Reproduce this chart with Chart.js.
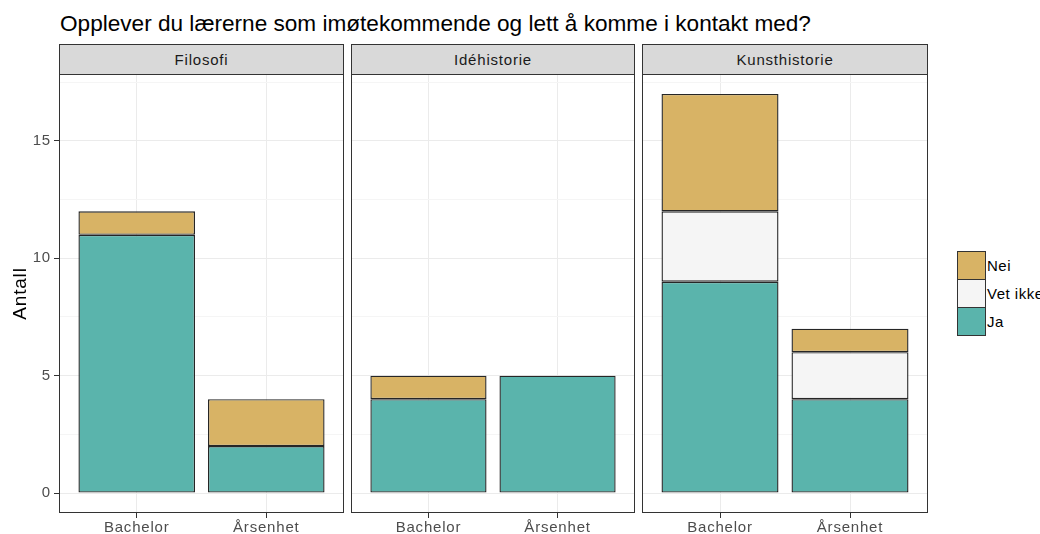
<!DOCTYPE html>
<html>
<head>
<meta charset="utf-8">
<script src="https://cdn.jsdelivr.net/npm/chart.js@4.4.0/dist/chart.umd.min.js"></script>
<style>
  body { margin: 0; background: #fff; font-family: 'Liberation Sans', Arial, sans-serif; }
  #wrap { position: relative; width: 1040px; height: 534px; overflow: hidden; background: #fff; }
  #title { position: absolute; left: 60px; top: 13px; font-size: 22.6px; line-height: 22px; color: #000; white-space: nowrap; }
  .strip { position: absolute; top: 44px; height: 31px; box-sizing: border-box; border: 1px solid #333;
           background: #d9d9d9; font-size: 15px; line-height: 29px; color: #1a1a1a; text-align: center; letter-spacing: 0.8px; }
  canvas { position: absolute; }
  .key { position: absolute; left: 957px; width: 29px; height: 29px; box-sizing: border-box; border: 1px solid #333; }
  .keylabel { position: absolute; left: 987px; height: 29px; line-height: 29px; font-size: 15px; color: #000; white-space: nowrap; letter-spacing: 0.5px; }
</style>
</head>
<body>
<div id="wrap">
  <div id="title">Opplever du lærerne som imøtekommende og lett å komme i kontakt med?</div>
</div>
<script>
// data
const panels = ['Filosofi', 'Idéhistorie', 'Kunsthistorie'];
const levels = ['Bachelor', 'Årsenhet'];
const answers = ['Ja', 'Vet ikke', 'Nei'];
const answerColors = ['#5ab4ac', '#f5f5f5', '#d8b365'];

// one array per answer, one pair (Bachelor, Årsenhet) per panel
const jaCounts      = [[11, 2], [4, 5], [9, 4]];
const vetIkkeCounts = [[0, 0],  [0, 0], [3, 2]];
const neiCounts     = [[1, 2],  [1, 0], [5, 1]];
const seriesCounts = [jaCounts, vetIkkeCounts, neiCounts];

const yTicks = [0, 2.5, 5, 7.5, 10, 12.5, 15, 17.5];
const yMin = -0.85, yMax = 17.85;

// layout (page pixels)
const panelLeft = [59, 351, 642];
const panelRight = [343, 634, 927];
const plotTop = 74, plotBottom = 512, pageH = 534;
const yAxisW = 59;

const font = 'Liberation Sans, Arial, sans-serif';
const wrap = document.getElementById('wrap');

const panelBorder = {
  id: 'panelBorder',
  beforeDraw(chart) {
    chart.ctx.letterSpacing = '0.8px';
  },
  afterDraw(chart) {
    const { ctx, chartArea: a } = chart;
    ctx.save();
    ctx.strokeStyle = '#333';
    ctx.lineWidth = 1;
    ctx.strokeRect(a.left + 0.5, a.top + 0.5, a.right - a.left - 1, a.bottom - a.top - 1);
    ctx.restore();
  }
};

function noPad(s) {
  s.paddingTop = 0; s.paddingBottom = 0; s.paddingLeft = 0; s.paddingRight = 0;
}

panels.forEach((name, p) => {
  const strip = document.createElement('div');
  strip.className = 'strip';
  strip.style.left = panelLeft[p] + 'px';
  strip.style.width = (panelRight[p] - panelLeft[p] + 1) + 'px';
  strip.textContent = name;
  wrap.appendChild(strip);

  const yw = p === 0 ? yAxisW : 0;
  const canvas = document.createElement('canvas');
  canvas.width = panelRight[p] - panelLeft[p] + 1 + yw;
  canvas.height = pageH - plotTop;
  canvas.style.left = (panelLeft[p] - yw) + 'px';
  canvas.style.top = plotTop + 'px';
  wrap.appendChild(canvas);

  new Chart(canvas.getContext('2d'), {
    type: 'bar',
    data: {
      datasets: answers.map((a, s) => ({
        label: a,
        // empty segments are left out so they draw no outline
        data: levels.map((lv, i) => ({ x: i + 1, y: seriesCounts[s][p][i] || null })),
        backgroundColor: answerColors[s],
        borderColor: '#262626',
        borderWidth: 1.4,
        borderSkipped: false,
        categoryPercentage: 1,
        barPercentage: 0.9
      }))
    },
    options: {
      responsive: false,
      animation: false,
      layout: { padding: 0 },
      plugins: { legend: { display: false }, tooltip: { enabled: false } },
      scales: {
        x: {
          type: 'linear',
          offset: false,
          min: 0.4,
          max: 2.6,
          stacked: true,
          afterBuildTicks: s => { s.ticks = levels.map((lv, i) => ({ value: i + 1 })); },
          afterFit: s => { s.height = pageH - plotBottom - 1; noPad(s); },
          ticks: {
            autoSkip: false,
            maxRotation: 0,
            padding: 1,
            color: '#4d4d4d',
            font: { family: font, size: 15 },
            callback: v => levels[Math.round(v) - 1]
          },
          grid: { offset: false, color: '#ebebeb', tickColor: '#333', tickLength: 5 },
          border: { display: false }
        },
        y: {
          type: 'linear',
          min: yMin,
          max: yMax,
          stacked: true,
          afterBuildTicks: s => { s.ticks = yTicks.map(v => ({ value: v })); },
          afterFit: s => { s.width = yw; noPad(s); },
          title: {
            display: p === 0,
            text: 'Antall',
            color: '#000',
            font: { family: font, size: 19 },
            padding: { top: 9, bottom: 0 }
          },
          ticks: {
            display: p === 0,
            padding: 3,
            color: '#4d4d4d',
            font: { family: font, size: 15 },
            callback: v => (v % 5 === 0 ? String(v) : '')
          },
          grid: {
            drawTicks: p === 0,
            tickLength: 5,
            color: c => (c.tick && c.tick.value % 5 === 0 ? '#ebebeb' : '#f5f5f5'),
            tickColor: c => (c.tick && c.tick.value % 5 === 0 ? '#333' : 'rgba(0,0,0,0)')
          },
          border: { display: false }
        }
      }
    },
    plugins: [panelBorder]
  });
});

// legend, top to bottom: Nei, Vet ikke, Ja
const legendTop = 251;
answers.slice().reverse().forEach((a, k) => {
  const s = answers.length - 1 - k;
  const key = document.createElement('div');
  key.className = 'key';
  key.style.top = (legendTop + k * 28) + 'px';
  key.style.background = answerColors[s];
  wrap.appendChild(key);
  const lab = document.createElement('div');
  lab.className = 'keylabel';
  lab.style.top = (legendTop + k * 28) + 'px';
  lab.textContent = a;
  wrap.appendChild(lab);
});
</script>
</body>
</html>
